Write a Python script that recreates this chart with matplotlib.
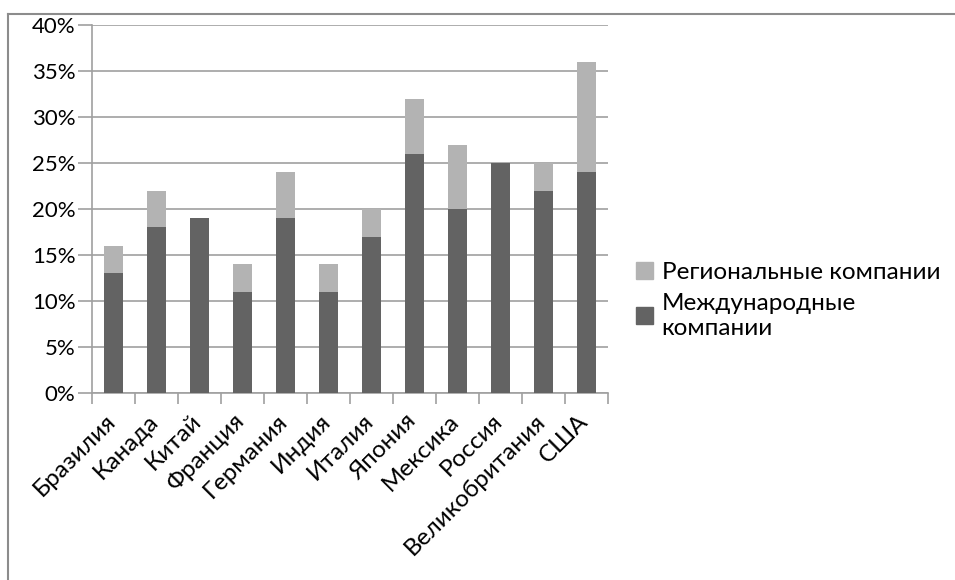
import matplotlib
matplotlib.use("Agg")
import matplotlib.pyplot as plt
import matplotlib.transforms as mtransforms
from matplotlib.patches import Patch
from matplotlib.lines import Line2D
import numpy as np

plt.rcParams['font.family'] = ['Lato', 'DejaVu Sans']

# Доля компаний по странам, %
countries = ['Бразилия', 'Канада', 'Китай', 'Франция', 'Германия', 'Индия',
             'Италия', 'Япония', 'Мексика', 'Россия', 'Великобритания', 'США']
international = [13, 18, 19, 11, 19, 11, 17, 26, 20, 25, 22, 24]
regional = [3, 4, 0, 3, 5, 3, 3, 6, 7, 0, 3, 12]

dark = '#636363'
light = '#b3b3b3'
grid_col = '#a0a0a0'

fig = plt.figure(figsize=(9.55, 5.8), dpi=100)
ax = fig.add_axes([92 / 955, 1 - 393 / 580, (608 - 92) / 955, (393 - 25) / 580])

x = np.arange(len(countries))
ax.bar(x, international, width=0.42, color=dark, zorder=3)
ax.bar(x, regional, width=0.42, bottom=international, color=light, zorder=3)

ax.set_xlim(-0.5, len(countries) - 0.5)
ax.set_ylim(0, 40)
ax.set_yticks(range(0, 41, 5))
ax.set_yticklabels([f'{v}%' for v in range(0, 41, 5)], fontsize=16)
ax.yaxis.grid(True, color=grid_col, linewidth=1.2, zorder=0)

# подписи стран по центру, засечки на границах категорий
ax.set_xticks(x)
ax.set_xticklabels(countries, rotation=45, ha='right', va='baseline',
                   rotation_mode='anchor', fontsize=17.5)
ax.tick_params(axis='x', which='major', length=0, pad=21)
shift = mtransforms.ScaledTranslation(0.03, 0, fig.dpi_scale_trans)
for lbl in ax.get_xticklabels():
    lbl.set_transform(lbl.get_transform() + shift)
ax.set_xticks(np.arange(-0.5, len(countries)), minor=True)
ax.tick_params(axis='x', which='minor', length=8, width=1.2, color=grid_col)
ax.tick_params(axis='y', length=10, width=1.2, color=grid_col, pad=2)

for side in ['top', 'right']:
    ax.spines[side].set_visible(False)
for side in ['left', 'bottom']:
    ax.spines[side].set_color(grid_col)
    ax.spines[side].set_linewidth(1.2)

handles = [Patch(color=light), Patch(color=dark)]
leg = fig.legend(handles, ['Региональные компании', 'Международные\nкомпании'],
                 loc='upper left', bbox_to_anchor=(636 / 955, 1 - 262 / 580),
                 frameon=False, fontsize=17.5, handlelength=0.7, handleheight=0.7,
                 handletextpad=0.35, labelspacing=0.4, borderpad=0, borderaxespad=0)
for t in leg.get_texts():
    t.set_linespacing(1.25)

# рамка области диаграммы
fig.add_artist(Line2D([8 / 955, 1], [1 - 14 / 580, 1 - 14 / 580], color='#8c8c8c', linewidth=1.5))
fig.add_artist(Line2D([8 / 955, 8 / 955], [0, 1 - 14 / 580], color='#8c8c8c', linewidth=1.5))

fig.savefig('out.png', dpi=100)
